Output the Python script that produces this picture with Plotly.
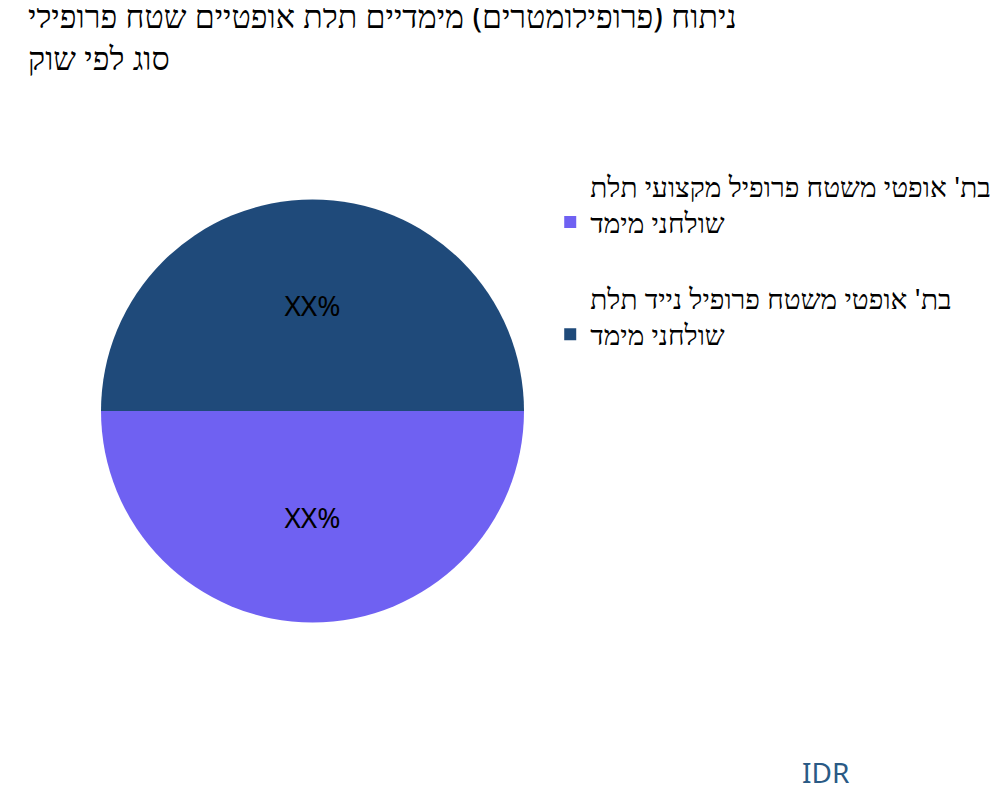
import plotly.graph_objects as go

labels = ["בת' אופטי משטח פרופיל מקצועי תלת<br>שולחני מימד<br> ",
          "בת' אופטי משטח פרופיל נייד תלת<br>שולחני מימד<br> "]
values = [50, 50]
texts = ["XX%", "XX%"]
colors = ["#6f61f2", "#1f4a7a"]

fig = go.Figure(go.Pie(labels=labels, values=values, text=texts, textinfo="text",
                       marker=dict(colors=colors), rotation=90, sort=False,
                       direction="clockwise", textfont=dict(size=28, color="black"),
                       hoverinfo="skip"))
fig.update_layout(
    width=1000, height=800,
    font=dict(family="Noto Sans", color="black"),
    title=dict(text="ניתוח (פרופילומטרים) מימדיים תלת אופטיים שטח פרופילי<br>סוג לפי שוק",
               x=0.02, y=0.975, xanchor="left", yanchor="top", font=dict(size=32)),
    margin=dict(l=93, r=407, t=153, b=147),
    legend=dict(x=1.062, y=1.0, xanchor="left", yanchor="top", font=dict(size=28)),
    paper_bgcolor="white",
    annotations=[dict(text="IDR", x=1.774, y=-0.264, xref="paper", yref="paper",
                      xanchor="right", yanchor="bottom", showarrow=False,
                      font=dict(size=28, color="#2a5a85"))],
)
fig.write_html("out.html")
